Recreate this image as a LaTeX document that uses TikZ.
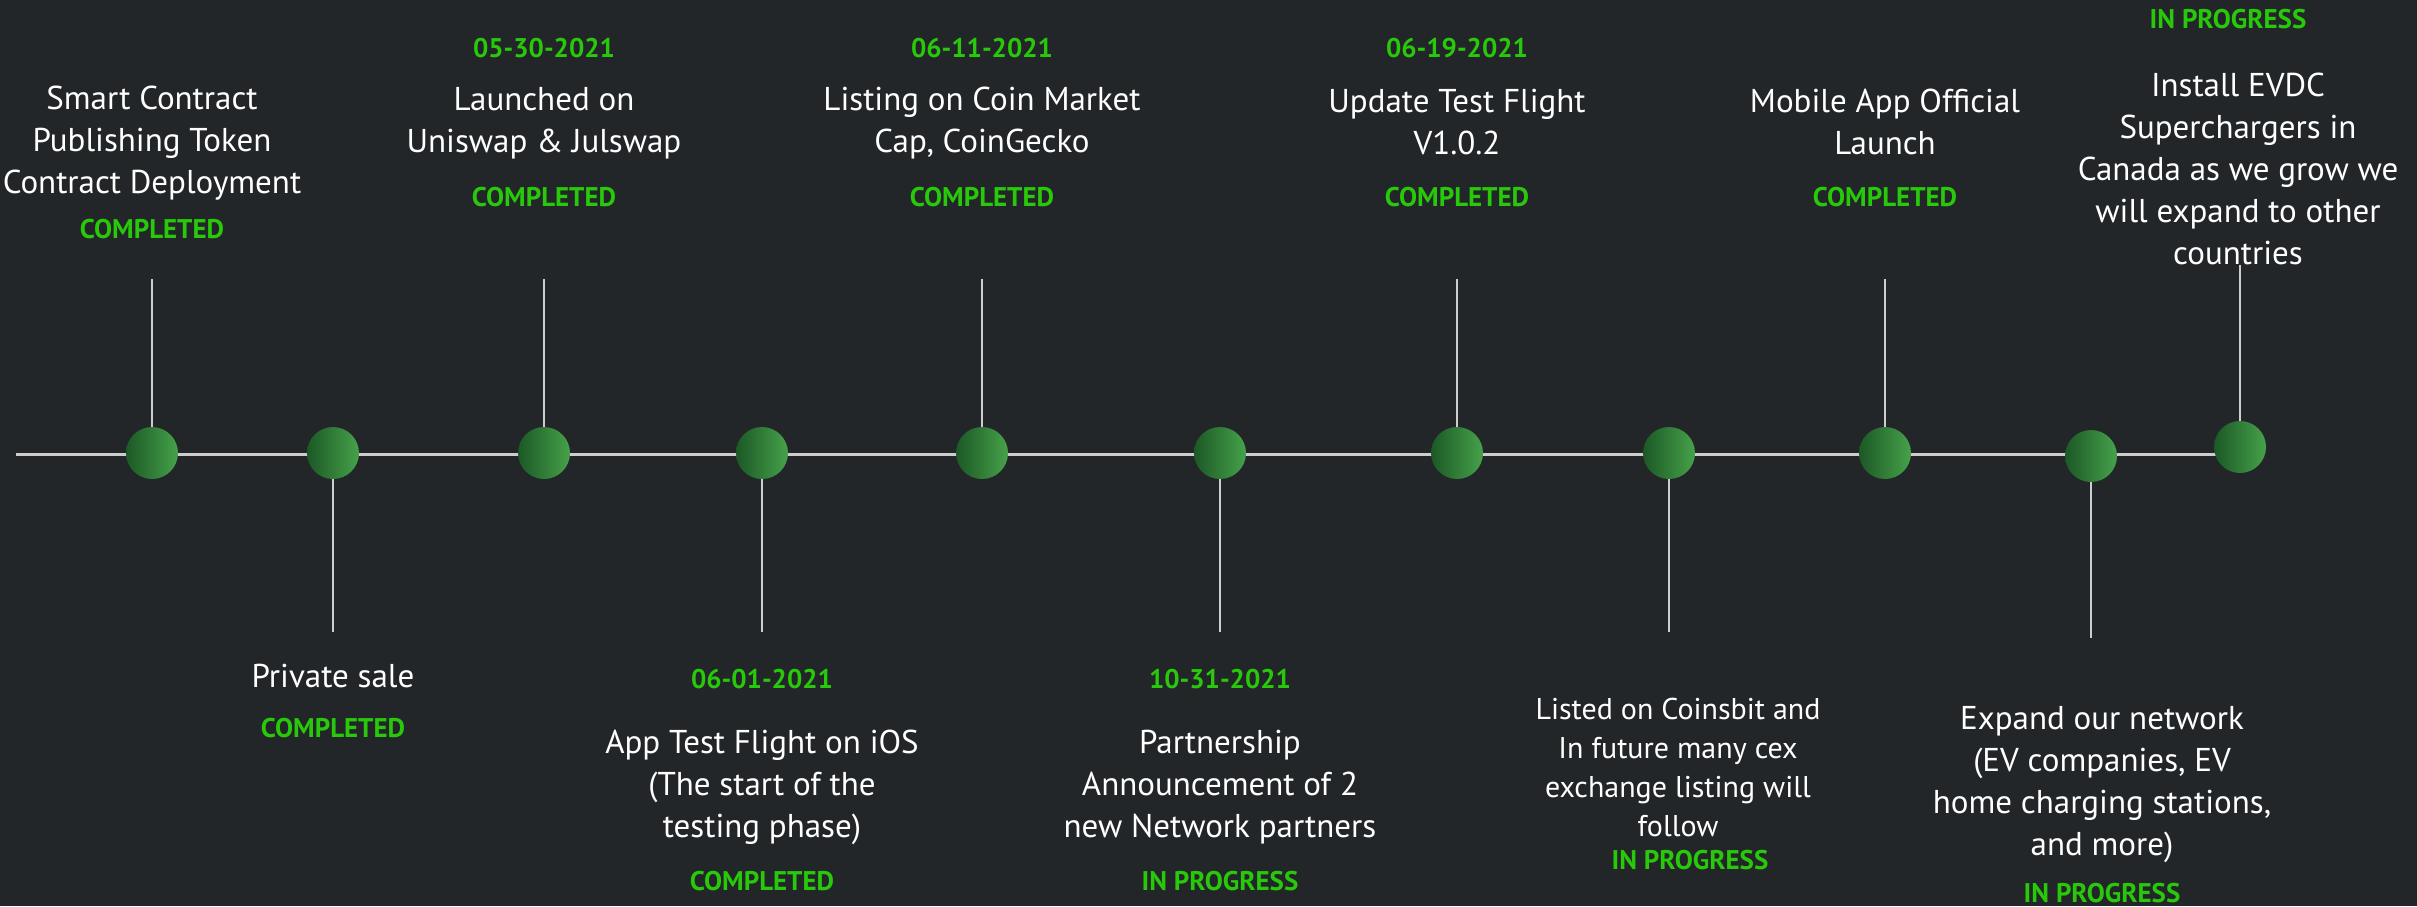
\documentclass[tikz,border=0pt]{standalone}
\usepackage{fontspec}
\setmainfont{PT Sans}
\definecolor{bgdark}{RGB}{35,38,41}
\definecolor{donegreen}{RGB}{40,200,10}
\definecolor{dotdark}{RGB}{28,88,38}
\definecolor{dotlight}{RGB}{70,162,74}
\definecolor{railgray}{RGB}{205,205,205}

\begin{document}
\begin{tikzpicture}[x=1pt,y=-1pt,
        dot/.style={circle,minimum size=52pt,inner sep=0pt,left color=dotdark,right color=dotlight},
        rail/.style={draw=railgray,line width=3pt},
        stem/.style={draw=railgray,line width=1.5pt},
        title/.style={text=white,font=\fontsize{33}{42}\selectfont,align=center},
        smalltitle/.style={text=white,font=\fontsize{30}{39}\selectfont,align=center},
        status/.style={text=donegreen,font=\bfseries\fontsize{27}{32}\selectfont}]
        \fill[bgdark] (0,0) rectangle (2417,906);
        \useasboundingbox (0,0) rectangle (2417,906);

        % axis
        \coordinate (railstart) at (16,454);
        \coordinate (railend) at (2240,454);
        \draw[rail] (railstart) -- (railend);

        % dots
        \node[dot] (smart) at (152,453) {};
        \node[dot] (private) at (333,453) {};
        \node[dot] (uniswap) at (544,453) {};
        \node[dot] (testios) at (762,453) {};
        \node[dot] (listing) at (982,453) {};
        \node[dot] (partner) at (1220,453) {};
        \node[dot] (update) at (1457,453) {};
        \node[dot] (coinsbit) at (1669,453) {};
        \node[dot] (mobile) at (1885,453) {};
        \node[dot] (expand) at (2091,456) {};
        \node[dot] (install) at (2240,447) {};

        % stems
        \coordinate (smarttop) at (152,279);
        \coordinate (uniswaptop) at (544,279);
        \coordinate (listingtop) at (982,279);
        \coordinate (updatetop) at (1457,279);
        \coordinate (mobiletop) at (1885,279);
        \coordinate (installtop) at (2240,265);
        \coordinate (privatebot) at (333,632);
        \coordinate (testiosbot) at (762,632);
        \coordinate (partnerbot) at (1220,632);
        \coordinate (coinsbitbot) at (1669,632);
        \coordinate (expandbot) at (2091,638);
        \draw[stem] (smart) -- (smarttop);
        \draw[stem] (uniswap) -- (uniswaptop);
        \draw[stem] (listing) -- (listingtop);
        \draw[stem] (update) -- (updatetop);
        \draw[stem] (mobile) -- (mobiletop);
        \draw[stem] (install) -- (installtop);
        \draw[stem] (private) -- (privatebot);
        \draw[stem] (testios) -- (testiosbot);
        \draw[stem] (partner) -- (partnerbot);
        \draw[stem] (coinsbit) -- (coinsbitbot);
        \draw[stem] (expand) -- (expandbot);

        % upper labels
        \node[title] (smarttext) at (152,143) {Smart Contract\\Publishing Token\\Contract Deployment};
        \node[status] (smartstat) at (152,229) {COMPLETED};

        \node[status] (uniswapdate) at (544,48) {05-30-2021};
        \node[title] (uniswaptext) at (544,123) {Launched on\\Uniswap \& Julswap};
        \node[status] (uniswapstat) at (544,197) {COMPLETED};

        \node[status] (listingdate) at (982,48) {06-11-2021};
        \node[title] (listingtext) at (982,123) {Listing on Coin Market\\Cap, CoinGecko};
        \node[status] (listingstat) at (982,197) {COMPLETED};

        \node[status] (updatedate) at (1457,48) {06-19-2021};
        \node[title] (updatetext) at (1457,122) {Update Test Flight\\V1.0.2};
        \node[status] (updatestat) at (1457,197) {COMPLETED};

        \node[title] (mobiletext) at (1885,122) {Mobile App Official\\Launch};
        \node[status] (mobilestat) at (1885,197) {COMPLETED};

        \node[status] (installstat) at (2228,19) {IN PROGRESS};
        \node[title] (installtext) at (2238,169) {Install EVDC\\Superchargers in\\Canada as we grow we\\will expand to other\\countries};

        % lower labels
        \node[title] (privatetext) at (333,676) {Private sale};
        \node[status] (privatestat) at (333,728) {COMPLETED};

        \node[status] (testiosdate) at (762,679) {06-01-2021};
        \node[title] (testiostext) at (762,787) {App Test Flight on iOS\\(The start of the\\testing phase)};
        \node[status] (testiosstat) at (762,881) {COMPLETED};

        \node[status] (partnerdate) at (1220,679) {10-31-2021};
        \node[title] (partnertext) at (1220,787) {Partnership\\Announcement of 2\\new Network partners};
        \node[status] (partnerstat) at (1220,881) {IN PROGRESS};

        \node[smalltitle] (coinsbittext) at (1678,767) {Listed on Coinsbit and\\In future many cex\\exchange listing will\\follow};
        \node[status] (coinsbitstat) at (1690,860) {IN PROGRESS};

        \node[title] (expandtext) at (2102,785) {Expand our network\\(EV companies, EV\\home charging stations,\\and more)};
        \node[status] (expandstat) at (2102,893) {IN PROGRESS};
\end{tikzpicture}
\end{document}
